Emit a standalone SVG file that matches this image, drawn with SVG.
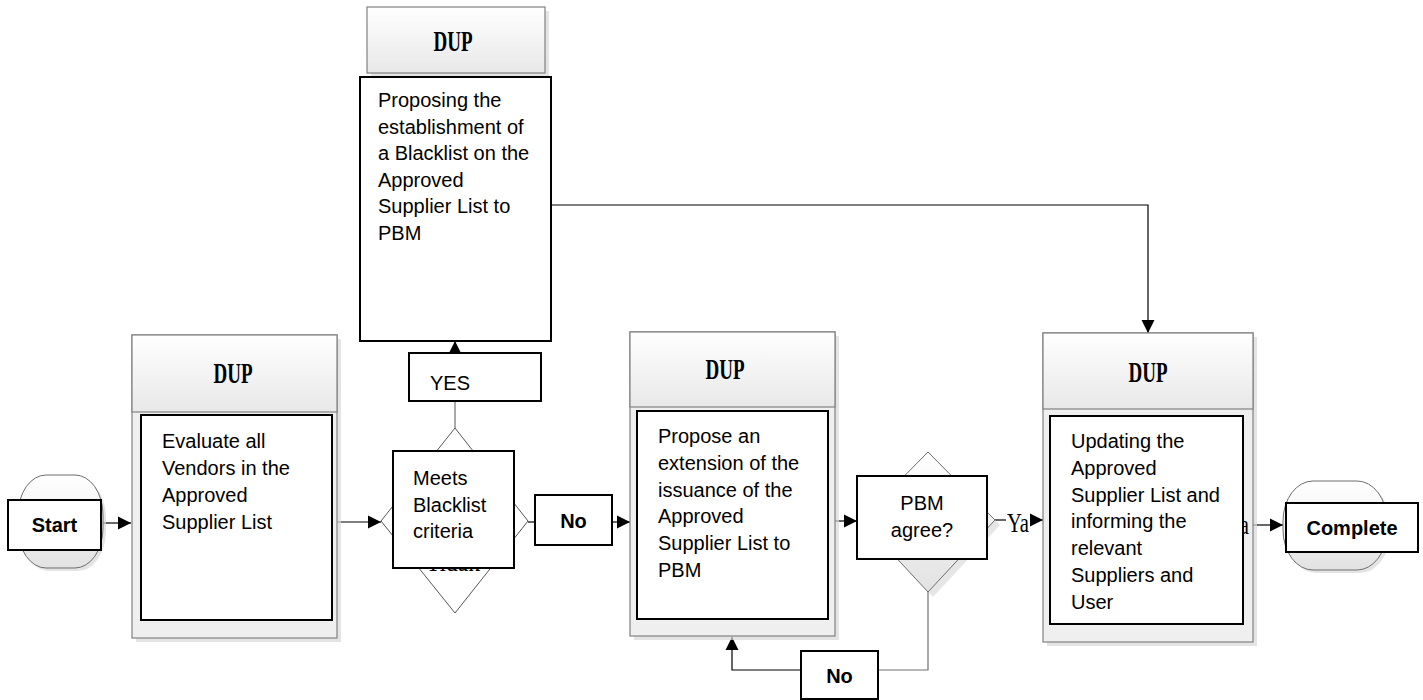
<svg xmlns="http://www.w3.org/2000/svg" width="1423" height="700" viewBox="0 0 1423 700">
<style>
.bg{fill:#ffffff}
.outer{fill:#efefef;stroke:#808080;stroke-width:1.2}
.hdr{fill:url(#hg);stroke:#808080;stroke-width:1.2}
.shadow{fill:#d8d8d8;opacity:0.7}
.inner{fill:#ffffff;stroke:#000000;stroke-width:2}
.lbl{fill:#ffffff;stroke:#000000;stroke-width:2}
.term{fill:url(#tg);stroke:#6e6e6e;stroke-width:1}
.dia{fill:#ffffff;stroke:#555555;stroke-width:1}
.diag{fill:url(#dg);stroke:#6e6e6e;stroke-width:1}
.t{font-family:"Liberation Sans",Arial,sans-serif;font-size:20px;fill:#000}
.b{font-family:"Liberation Sans",Arial,sans-serif;font-size:20px;font-weight:bold;fill:#000}
.dup{font-family:"Liberation Serif","Times New Roman",serif;font-size:30px;font-weight:bold;fill:#000}
.ya{font-family:"Liberation Serif","Times New Roman",serif;font-size:28px;fill:#000}
.c{fill:none;stroke:#000;stroke-width:1.2}
.cg{fill:none;stroke:#707070;stroke-width:1.2}
</style>
<defs>
<linearGradient id="hg" x1="0" y1="0" x2="0" y2="1"><stop offset="0" stop-color="#ffffff"/><stop offset="1" stop-color="#e8e8e8"/></linearGradient>
<linearGradient id="tg" x1="0" y1="0" x2="0" y2="1"><stop offset="0" stop-color="#ffffff"/><stop offset="1" stop-color="#e2e2e2"/></linearGradient>
<linearGradient id="dg" x1="0" y1="0" x2="0" y2="1"><stop offset="0" stop-color="#ffffff"/><stop offset="1" stop-color="#e2e2e2"/></linearGradient>
<marker id="arr" markerUnits="userSpaceOnUse" markerWidth="14" markerHeight="14" viewBox="0 0 14 14" refX="13" refY="7" orient="auto">
<path d="M0,0.5 L13,7 L0,13.5 Z" fill="#000"/>
</marker>
</defs>
<rect class="bg" x="0" y="0" width="1423" height="700"/>

<g id="connectors">
<line class="c" x1="103" y1="523" x2="131" y2="523" marker-end="url(#arr)"/>
<line class="c" x1="337" y1="522" x2="381" y2="522" marker-end="url(#arr)"/>
<line class="c" x1="528" y1="522" x2="535" y2="522"/>
<line class="c" x1="612" y1="522" x2="630" y2="522" marker-end="url(#arr)"/>
<line class="cg" x1="455" y1="428" x2="455" y2="401"/>
<line class="c" x1="455" y1="353" x2="455" y2="341" marker-end="url(#arr)"/>
<path class="c" d="M551,205 H1148 V333" marker-end="url(#arr)"/>
<line class="c" x1="835" y1="521" x2="857" y2="521" marker-end="url(#arr)"/>
<line class="c" x1="995" y1="520" x2="1006" y2="520"/>
<line class="c" x1="1030" y1="520" x2="1043" y2="520" marker-end="url(#arr)"/>
<text class="ya" x="1007" y="532" textLength="22" lengthAdjust="spacingAndGlyphs">Ya</text>
<path class="cg" d="M928,592 V670 H878"/>
<path class="c" d="M801,670 H732 V637" marker-end="url(#arr)"/>
<line class="c" x1="1253" y1="525" x2="1283" y2="525" marker-end="url(#arr)"/>
</g>

<g id="start">
<rect class="shadow" x="21" y="478" width="85" height="93" rx="28" ry="40"/>
<rect class="term" x="18" y="475" width="85" height="93" rx="28" ry="40"/>
<rect class="lbl" x="8" y="500" width="93" height="50"/>
<text class="b" x="54.5" y="532" text-anchor="middle">Start</text>
</g>

<g id="evaluate">
<rect class="shadow" x="136" y="339" width="205" height="303"/>
<rect class="outer" x="132" y="335" width="205" height="303"/>
<rect class="hdr" x="132" y="335" width="205" height="77"/>
<text class="dup" x="233" y="383" text-anchor="middle" textLength="39" lengthAdjust="spacingAndGlyphs">DUP</text>
<rect class="inner" x="141" y="415" width="191" height="205"/>
<text class="t" x="162" y="448">Evaluate all</text>
<text class="t" x="162" y="475">Vendors in the</text>
<text class="t" x="162" y="502">Approved</text>
<text class="t" x="162" y="529">Supplier List</text>
</g>

<g id="blacklist-decision">
<polygon class="dia" points="455,428 528,521 455,613 381,521"/>
<text class="ya" x="453" y="571" text-anchor="middle" textLength="54" lengthAdjust="spacingAndGlyphs">Tidak</text>
<rect class="lbl" x="393" y="451" width="121" height="117"/>
<text class="t" x="413" y="485">Meets</text>
<text class="t" x="413" y="512">Blacklist</text>
<text class="t" x="413" y="538">criteria</text>
</g>

<g id="yes-label">
<rect class="lbl" x="409" y="353" width="132" height="48"/>
<text class="t" x="430" y="390">YES</text>
</g>

<g id="no-label">
<rect class="lbl" x="535" y="495" width="77" height="50"/>
<text class="b" x="573.5" y="528" text-anchor="middle">No</text>
</g>

<g id="blacklist-propose">
<rect class="shadow" x="371" y="11" width="178" height="66"/>
<rect class="hdr" x="367" y="7" width="178" height="66"/>
<text class="dup" x="453" y="51" text-anchor="middle" textLength="39" lengthAdjust="spacingAndGlyphs">DUP</text>
<rect class="inner" x="360" y="77" width="191" height="264"/>
<text class="t" x="378" y="107">Proposing the</text>
<text class="t" x="378" y="134">establishment of</text>
<text class="t" x="378" y="160">a Blacklist on the</text>
<text class="t" x="378" y="187">Approved</text>
<text class="t" x="378" y="213">Supplier List to</text>
<text class="t" x="378" y="240">PBM</text>
</g>

<g id="extension">
<rect class="shadow" x="634" y="336" width="205" height="304"/>
<rect class="outer" x="630" y="332" width="205" height="304"/>
<rect class="hdr" x="630" y="332" width="205" height="75"/>
<text class="dup" x="725" y="379" text-anchor="middle" textLength="39" lengthAdjust="spacingAndGlyphs">DUP</text>
<rect class="inner" x="637" y="411" width="191" height="208"/>
<text class="t" x="658" y="443">Propose an</text>
<text class="t" x="658" y="470">extension of the</text>
<text class="t" x="658" y="497">issuance of the</text>
<text class="t" x="658" y="523">Approved</text>
<text class="t" x="658" y="550">Supplier List to</text>
<text class="t" x="658" y="577">PBM</text>
</g>

<g id="pbm-decision">
<polygon points="933,457 1000,525 933,597 866,525" fill="#dcdcdc" opacity="0.7"/>
<polygon class="diag" points="928,452 995,520 928,592 861,520"/>
<rect class="lbl" x="857" y="476" width="130" height="83"/>
<text class="t" x="922" y="510" text-anchor="middle">PBM</text>
<text class="t" x="922" y="537" text-anchor="middle">agree?</text>
</g>

<g id="no-label-2">
<rect class="lbl" x="801" y="651" width="77" height="48"/>
<text class="b" x="839.5" y="683" text-anchor="middle">No</text>
</g>

<g id="update">
<rect class="shadow" x="1047" y="337" width="210" height="309"/>
<rect class="outer" x="1043" y="333" width="210" height="309"/>
<rect class="hdr" x="1043" y="333" width="210" height="76"/>
<text class="dup" x="1148" y="382" text-anchor="middle" textLength="39" lengthAdjust="spacingAndGlyphs">DUP</text>
<text class="ya" x="1249" y="534" text-anchor="end" textLength="22" lengthAdjust="spacingAndGlyphs">Ya</text>
<rect class="inner" x="1050" y="416" width="193" height="208"/>
<text class="t" x="1071" y="448">Updating the</text>
<text class="t" x="1071" y="475">Approved</text>
<text class="t" x="1071" y="502">Supplier List and</text>
<text class="t" x="1071" y="528">informing the</text>
<text class="t" x="1071" y="555">relevant</text>
<text class="t" x="1071" y="582">Suppliers and</text>
<text class="t" x="1071" y="609">User</text>
</g>

<g id="complete">
<rect class="shadow" x="1286" y="484" width="104" height="89" rx="30" ry="40"/>
<rect class="term" x="1283" y="481" width="104" height="89" rx="30" ry="40"/>
<rect class="lbl" x="1286" y="503" width="132" height="49"/>
<text class="b" x="1352" y="535" text-anchor="middle">Complete</text>
</g>
</svg>
